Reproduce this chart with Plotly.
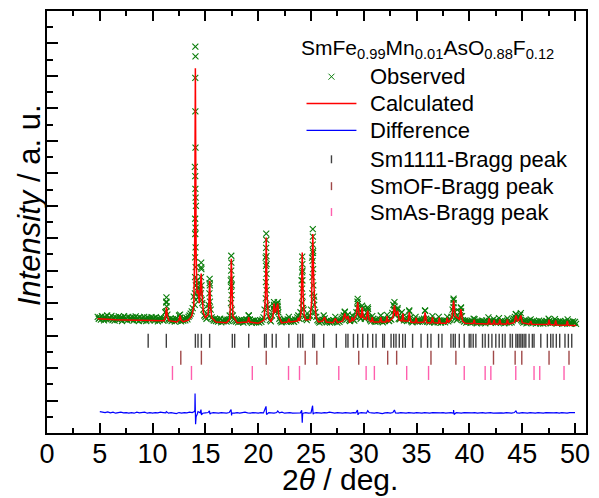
import numpy as np
import plotly.graph_objects as go

# ---------------- data ----------------
obs_start, obs_step = 4.8, 0.1
obs_grid_intensity = [
    358, 352,
    356, 349, 360, 353, 347, 358, 351, 362, 350, 355,
    353, 361, 348, 355, 346, 357, 352, 349, 359, 351,
    356, 345, 354, 360, 349, 352, 347, 358, 351, 355,
    350, 357, 346, 353, 359, 348, 354, 345, 356, 351,
    353, 347, 358, 350, 345, 356, 354, 348, 352, 357,
    349, 354, 346, 357, 351, 344, 352, 348, 355, 350,
    346, 353, 372, 402, 365, 350, 347, 353, 345, 351,
    348, 343, 352, 346, 350, 362, 355, 344, 350, 346,
    352, 347, 355, 350, 358, 362, 368, 375, 385, 420,
    820, 700, 470, 450, 430, 440, 510, 400, 380, 362,
    358, 352, 365, 395, 462, 380, 356, 350, 346, 352,
    345, 350, 343, 348, 352, 341, 347, 344, 351, 346,
    343, 349, 345, 362, 470, 455, 362, 352, 347, 343,
    346, 341, 348, 343, 350, 345, 340, 347, 344, 349,
    348, 362, 350, 343, 339, 346, 342, 348, 341, 345,
    343, 340, 347, 342, 349, 356, 380, 540, 520, 385,
    360, 348, 344, 362, 385, 395, 375, 385, 398, 372,
    352, 345, 341, 347, 343, 349, 345, 342, 350, 358,
    347, 343, 349, 345, 342, 350, 347, 356, 362, 352,
    372, 470, 500, 380, 360, 352, 348, 355, 360, 362,
    380, 540, 560, 420, 372, 358, 348, 344, 340, 347,
    343, 349, 362, 353, 344, 341, 347, 343, 340, 345,
    342, 348, 346, 358, 344, 340, 346, 342, 348, 352,
    356, 362, 372, 358, 350, 365, 348, 345, 350, 362,
    350, 346, 358, 372, 405, 370, 358, 352, 372, 385,
    360, 352, 356, 370, 382, 356, 348, 344, 360, 352,
    345, 342, 348, 343, 346, 350, 362, 345, 341, 347,
    345, 350, 364, 348, 345, 352, 349, 370, 395, 380,
    365, 372, 380, 352, 350, 355, 372, 358, 347, 352,
    348, 345, 352, 375, 355, 344, 341, 346, 350, 358,
    345, 342, 348, 343, 346, 350, 344, 352, 376, 352,
    342, 347, 341, 346, 349, 360, 345, 340, 347, 343,
    341, 358, 346, 340, 345, 342, 347, 341, 346, 358,
    344, 348, 350, 358, 380, 410, 372, 355, 348, 352,
    356, 372, 385, 360, 348, 343, 346, 340, 345, 342,
    344, 339, 346, 341, 352, 350, 343, 338, 345, 341,
    343, 339, 346, 341, 344, 338, 347, 342, 356, 345,
    340, 346, 342, 351, 343, 339, 345, 341, 354, 344,
    340, 346, 342, 338, 344, 341, 353, 346, 339, 343,
    341, 347, 352, 358, 366, 352, 350, 356, 364, 348,
    344, 340, 346, 342, 338, 345, 341, 347, 350, 343,
    339, 345, 341, 337, 343, 340, 346, 338, 344, 341,
    337, 343, 339, 345, 341, 352, 346, 338, 344, 340,
    342, 351, 344, 338, 343, 339, 345, 340, 336, 342,
    338, 344, 340, 350, 343, 337, 341, 338, 344, 339,
    342, 336,
]

obs_peak_2theta = [
    14.05, 14.06, 14.04, 14.05, 14.06, 14.04, 14.05, 14.07, 14.03, 14.06,
    14.04, 14.07, 14.03, 14.08, 14.02, 14.09, 14.01, 14.10, 13.99,
    14.28, 14.32, 14.35,
    14.60, 14.62, 14.58, 14.63, 14.57, 14.65,
    15.40, 15.42, 15.38, 15.43, 15.36,
    11.31, 11.30, 11.33, 11.28,
    17.45, 17.46, 17.44, 17.47, 17.43, 17.48, 17.42, 17.50,
    20.76, 20.77, 20.75, 20.78, 20.74, 20.79, 20.73, 20.80, 20.72, 20.82,
    21.50, 21.52, 21.48, 21.85, 21.83, 21.87,
    24.17, 24.18, 24.16, 24.19, 24.15, 24.20, 24.14, 24.22,
    25.17, 25.18, 25.16, 25.19, 25.15, 25.20, 25.14, 25.22, 25.13, 25.25, 25.30,
    29.42, 29.43, 29.41, 29.84, 30.37, 30.38,
    32.90, 32.91, 32.89, 33.20, 34.30, 35.80,
    38.50, 38.51, 38.49, 38.52, 39.20, 39.21,
    44.40, 44.87, 28.20, 19.10, 12.60,
]
obs_peak_intensity = [
    1190, 1160, 1094, 991, 879, 791, 752, 725, 660, 633,
    613, 572, 541, 511, 480, 455, 430, 410, 395,
    460, 445, 420,
    525, 505, 480, 455, 430, 410,
    475, 455, 430, 405, 385,
    418, 405, 390, 375,
    546, 525, 500, 475, 450, 425, 400, 380,
    614, 595, 570, 545, 515, 490, 465, 440, 415, 395,
    403, 392, 380, 403, 392, 380,
    543, 520, 495, 470, 445, 420, 400, 385,
    628, 605, 580, 555, 530, 505, 480, 455, 430, 410, 395,
    413, 398, 385, 392, 387, 375,
    403, 390, 378, 385, 378, 378,
    414, 400, 388, 375, 387, 375,
    366, 369, 374, 362, 365,
]

calc_2theta = [
    4.8, 5.5, 6.5, 7.5, 8.5, 9.5, 10.5, 11.1, 11.22, 11.31, 11.4, 11.55,
    12.3, 12.5, 12.6, 12.7, 12.9, 13.4, 13.7, 13.9, 13.98, 14.05, 14.12, 14.2,
    14.3, 14.42, 14.52, 14.6, 14.68, 14.8, 15.0, 15.25, 15.33, 15.4, 15.48, 15.6,
    16.0, 17.0, 17.3, 17.38, 17.45, 17.52, 17.6, 17.77, 18.0, 19.0, 19.1, 19.2,
    20.0, 20.55, 20.68, 20.76, 20.84, 20.95, 21.2, 21.4, 21.5, 21.62, 21.75, 21.85,
    21.95, 22.2, 22.8, 22.9, 23.0, 23.7, 23.8, 23.9, 24.05, 24.1, 24.17, 24.25,
    24.35, 24.5, 24.9, 25.05, 25.1, 25.17, 25.25, 25.35, 25.5, 25.7, 26.1, 26.28,
    26.45, 27.1, 27.3, 27.5, 28.0, 28.2, 28.35, 28.5, 28.65, 28.8, 28.9, 29.0,
    29.3, 29.42, 29.55, 29.75, 29.84, 29.95, 30.2, 30.37, 30.5, 30.7, 30.8, 30.9,
    31.5, 31.6, 31.7, 32.1, 32.2, 32.3, 32.75, 32.9, 33.05, 33.2, 33.35, 33.6,
    33.7, 33.8, 34.2, 34.3, 34.45, 34.85, 34.95, 35.05, 35.7, 35.8, 35.95, 36.4,
    36.5, 36.6, 37.05, 37.15, 37.25, 37.8, 37.9, 38.0, 38.35, 38.5, 38.65, 39.05,
    39.2, 39.35, 39.6, 40.35, 40.45, 40.55, 41.75, 41.87, 41.97, 42.24, 42.34, 42.44,
    42.78, 42.88, 42.98, 43.5, 43.6, 43.7, 44.25, 44.4, 44.55, 44.7, 44.87, 45.0,
    45.7, 45.81, 45.92, 47.44, 47.54, 47.64, 48.07, 48.17, 48.27, 49.17, 49.27, 49.37,
    50.1,
]
calc_intensity = [
    352, 350, 349, 348, 347, 346, 345, 346, 360, 387, 360, 346,
    342, 348, 362, 348, 343, 348, 360, 390, 550, 1124, 560, 430,
    440, 400, 440, 491, 430, 372, 355, 365, 400, 469, 395, 355,
    342, 340, 350, 400, 537, 420, 360, 352, 340, 342, 357, 342,
    338, 348, 420, 602, 430, 360, 342, 360, 399, 370, 385, 399,
    360, 340, 342, 352, 342, 345, 355, 345, 370, 430, 556, 430,
    365, 348, 350, 400, 480, 613, 480, 400, 355, 342, 345, 357,
    342, 340, 353, 340, 345, 368, 350, 360, 342, 345, 357, 345,
    365, 403, 365, 355, 387, 355, 350, 377, 348, 342, 357, 342,
    342, 357, 342, 342, 360, 342, 355, 393, 360, 377, 348, 345,
    368, 345, 345, 372, 342, 340, 355, 340, 342, 372, 340, 340,
    357, 340, 338, 355, 338, 338, 355, 340, 355, 408, 360, 350,
    382, 345, 338, 337, 349, 337, 336, 353, 336, 336, 348, 336,
    336, 350, 336, 336, 350, 336, 340, 362, 345, 348, 362, 340,
    335, 345, 335, 334, 349, 334, 333, 347, 333, 332, 345, 332,
    331,
]

diff_start, diff_step = 5.0, 0.25
diff_grid_intensity = [
    66, 64, 63, 65, 62, 64, 61, 63, 64, 62, 63, 61, 63, 61, 64, 62,
    62, 64, 61, 63, 61, 63, 62, 64, 63, 62, 61, 63, 62, 60, 63, 61,
    63, 62, 64, 63, 70, 60, 62, 61, 62, 63, 61, 63, 62, 61, 63, 62,
    61, 63, 62, 61, 63, 61, 62, 64, 62, 61, 63, 62, 61, 63, 62, 61,
    63, 62, 61, 63, 62, 64, 61, 62, 63, 61, 62, 63, 62, 61, 63, 61,
    62, 61, 63, 62, 61, 63, 62, 64, 62, 61, 63, 62, 61, 63, 62, 61,
    63, 62, 61, 63, 62, 61, 63, 62, 61, 63, 62, 60, 62, 63, 61, 63,
    62, 61, 63, 62, 61, 63, 62, 61, 63, 62, 61, 63, 62, 61, 63, 62,
    61, 62, 63, 61, 62, 63, 61, 63, 62, 61, 63, 62, 61, 62, 63, 61,
    62, 63, 61, 62, 63, 61, 62, 63, 62, 61, 63, 62, 61, 63, 62, 61,
    63, 62, 61, 63, 62, 61, 63, 62, 61, 63, 62, 61, 62, 63, 61, 63,
    62, 61, 63, 62, 63,
]
diff_spike_2theta = [11.3, 13.95, 14.02, 14.04, 14.07, 14.12, 14.3, 14.58, 14.63,
                     15.38, 15.43, 17.43, 17.48, 20.74, 20.79, 21.85, 24.12, 24.17,
                     24.21, 25.15, 25.2, 29.4, 29.45, 30.37, 32.9, 38.5, 38.55, 44.4]
diff_spike_intensity = [66, 66, 122, 85, 27, 50, 66, 72, 56,
                        68, 58, 72, 54, 82, 57, 68, 70, 32,
                        60, 84, 58, 71, 56, 69, 71, 71, 57, 68]

bragg_sm1111 = [9.58, 11.3, 14.05, 14.3, 14.62, 15.4, 17.55, 17.77, 19.1, 20.6, 20.76,
                21.33, 21.7, 22.9, 23.75, 24.0, 24.22, 25.17, 25.33, 26.2, 27.4, 28.3,
                28.5, 29.02, 29.42, 29.9, 30.37, 30.84, 31.16, 31.79, 31.95, 32.58,
                32.83, 33.05, 33.36, 33.68, 33.93, 34.62, 35.42, 36.04, 36.36, 37.08,
                37.4, 38.25, 38.47, 38.66, 39.04, 39.51, 39.98, 40.14, 40.36, 40.61,
                41.24, 41.49, 41.81, 42.13, 42.5, 42.82, 43.13, 43.38, 43.86, 44.07,
                44.4, 44.55, 44.71, 44.87, 45.02, 45.18, 45.34, 45.65, 45.96, 46.12,
                46.76, 47.38, 47.7, 47.92, 48.23, 48.55, 49.05, 49.37, 49.69]
bragg_smof = [12.67, 14.62, 20.76, 24.45, 25.55, 29.52, 32.26, 33.11, 36.36, 38.72,
              42.28, 44.33, 44.96, 47.54, 49.43]
bragg_smas = [11.88, 13.68, 19.44, 22.87, 23.91, 27.63, 30.22, 31.0, 34.06, 36.13,
              39.51, 41.49, 42.03, 44.39, 46.12, 46.66, 48.96]

legend_labels = ["Observed", "Calculated", "Difference",
                 "Sm1111-Bragg peak", "SmOF-Bragg peak", "SmAs-Bragg peak"]
sample_label = "SmFe<sub>0.99</sub>Mn<sub>0.01</sub>AsO<sub>0.88</sub>F<sub>0.12</sub>"

# ---------------- build figure ----------------
obs_grid_x = np.round(obs_start + obs_step * np.arange(len(obs_grid_intensity)), 2)
obs_x = np.concatenate([obs_grid_x, obs_peak_2theta])
obs_y = np.concatenate([obs_grid_intensity, obs_peak_intensity])

diff_grid_x = np.round(diff_start + diff_step * np.arange(len(diff_grid_intensity)), 2)
dx = np.concatenate([diff_grid_x, diff_spike_2theta])
dy = np.concatenate([diff_grid_intensity, diff_spike_intensity])
order = np.argsort(dx, kind="stable")
dx, dy = dx[order], dy[order]

# vertical levels (plot offsets) of the Bragg tick rows
LEVEL_1111, LEVEL_OF, LEVEL_AS = 284, 232, 185

FONT = "Liberation Sans, Arial, sans-serif"
fig = go.Figure()
fig.add_trace(go.Scatter(x=obs_x, y=obs_y, mode="markers", name=legend_labels[0],
                         marker=dict(symbol="x-thin", size=6, color="#0a7d0a",
                                     line=dict(width=1.1, color="#0a7d0a"))))
fig.add_trace(go.Scatter(x=calc_2theta, y=calc_intensity, mode="lines", name=legend_labels[1],
                         line=dict(color="#ff0000", width=1.5)))
fig.add_trace(go.Scatter(x=dx, y=dy, mode="lines", name=legend_labels[2],
                         line=dict(color="#0000ff", width=1.2)))
for pos, lvl, col, nm in [(bragg_sm1111, LEVEL_1111, "#404040", legend_labels[3]),
                          (bragg_smof, LEVEL_OF, "#a04848", legend_labels[4]),
                          (bragg_smas, LEVEL_AS, "#ff5fae", legend_labels[5])]:
    fig.add_trace(go.Scatter(x=pos, y=[lvl] * len(pos), mode="markers", name=nm,
                             marker=dict(symbol="line-ns", size=10,
                                         line=dict(width=1.4, color=col))))

# ---------------- manual legend ----------------
L, T, W, H = 47, 9, 540, 424
def px(x):
    return (x - L) / W
def py(y):
    return (T + H - y) / H

shapes = []
cx, cy, r = 332, 75, 3
shapes.append(dict(type="path", xref="paper", yref="paper",
                   path=f"M {px(cx-r)},{py(cy-r)} L {px(cx+r)},{py(cy+r)} M {px(cx-r)},{py(cy+r)} L {px(cx+r)},{py(cy-r)}",
                   line=dict(color="#0a7d0a", width=1)))
shapes.append(dict(type="line", xref="paper", yref="paper", x0=px(307), x1=px(357),
                   y0=py(102), y1=py(102), line=dict(color="#ff0000", width=1.5)))
shapes.append(dict(type="line", xref="paper", yref="paper", x0=px(307), x1=px(357),
                   y0=py(129), y1=py(129), line=dict(color="#0000ff", width=1.2)))
for yc, col in [(158, "#404040"), (185, "#a04848"), (211, "#ff5fae")]:
    shapes.append(dict(type="line", xref="paper", yref="paper", x0=px(332), x1=px(332),
                       y0=py(yc - 4), y1=py(yc + 4), line=dict(color=col, width=1.4)))

annotations = [dict(text=sample_label, xref="paper", yref="paper", x=px(299), y=py(47),
                    xanchor="left", yanchor="middle", showarrow=False,
                    font=dict(family=FONT, size=21, color="black"))]
for lab, yc in zip(legend_labels, [75, 102, 129, 158, 185, 211]):
    annotations.append(dict(text=lab, xref="paper", yref="paper", x=px(369), y=py(yc),
                            xanchor="left", yanchor="middle", showarrow=False,
                            font=dict(family=FONT, size=22, color="black")))
annotations.append(dict(text="2<i>θ</i> / deg.", xref="paper", yref="paper",
                        x=px(341), y=py(480), xanchor="center", yanchor="middle",
                        showarrow=False, font=dict(family=FONT, size=30, color="black")))
annotations.append(dict(text="<i>Intensity</i> / a. u.", xref="paper", yref="paper",
                        x=px(29), y=py(204), xanchor="center", yanchor="middle",
                        textangle=-90, showarrow=False,
                        font=dict(family=FONT, size=31, color="black")))

fig.update_layout(
    width=599, height=498, margin=dict(l=L, r=599 - L - W, t=T, b=498 - T - H),
    paper_bgcolor="white", plot_bgcolor="white", showlegend=False,
    shapes=shapes, annotations=annotations,
    font=dict(family=FONT, color="black"),
)
fig.update_xaxes(range=[0, 51.04], tick0=0, dtick=5, ticks="inside", ticklen=10,
                 tickwidth=2, tickcolor="black", ticklabelstandoff=-4,
                 minor=dict(dtick=2.5, ticks="inside", ticklen=5, tickwidth=2, tickcolor="black"),
                 showline=True, linewidth=2, linecolor="black", mirror="ticks",
                 showgrid=False, zeroline=False, tickfont=dict(family=FONT, size=27, color="black"))
fig.update_yaxes(range=[0, 1300], tick0=0, dtick=100, ticks="inside", ticklen=11,
                 tickwidth=2, tickcolor="black",
                 minor=dict(dtick=50, ticks="inside", ticklen=6, tickwidth=2, tickcolor="black"),
                 showline=True, linewidth=2, linecolor="black", mirror=True,
                 showticklabels=False, showgrid=False, zeroline=False)

fig.write_html("out.html")
